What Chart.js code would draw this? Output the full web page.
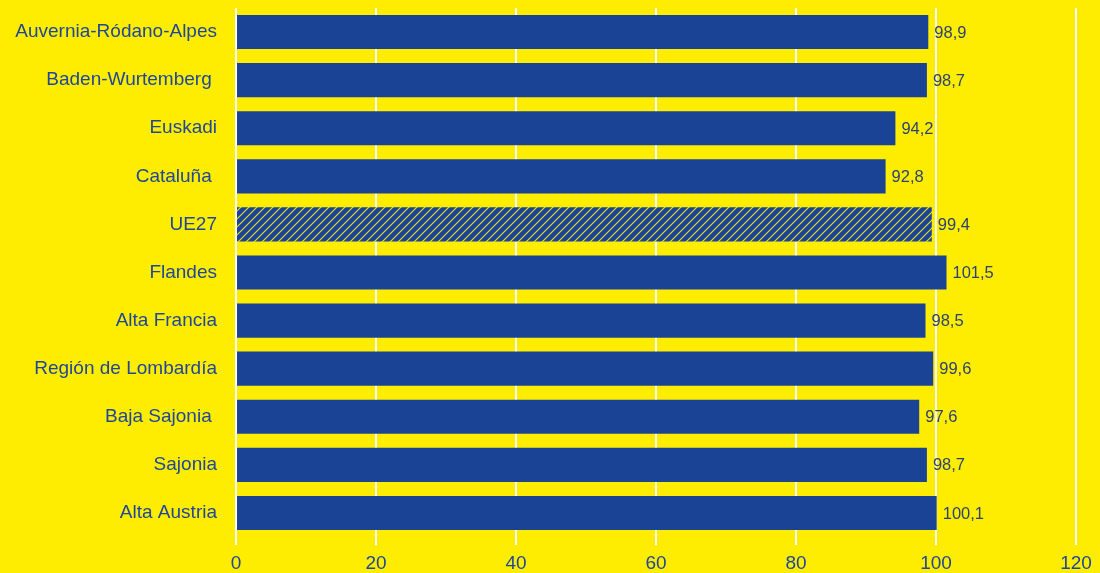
<!DOCTYPE html>
<html>
<head>
<meta charset="utf-8">
<script src="https://cdn.jsdelivr.net/npm/chart.js@4"></script>
<style>
  html, body { margin: 0; padding: 0; background: #ffed00; }
  #wrap { width: 1100px; height: 573px; }
</style>
</head>
<body>
<div id="wrap"><canvas id="chart"></canvas></div>
<script>
"use strict";

const REGIONS = [
  "Auvernia-Ródano-Alpes", "Baden-Wurtemberg ", "Euskadi", "Cataluña ", "UE27",
  "Flandes", "Alta Francia", "Región de Lombardía", "Baja Sajonia ", "Sajonia", "Alta Austria",
];
const VALUES = [98.9, 98.7, 94.2, 92.8, 99.4, 101.5, 98.5, 99.6, 97.6, 98.7, 100.1];
const X_TICKS = [0, 20, 40, 60, 80, 100, 120];
const HATCHED = "UE27";

const BLUE = "#1a4396";
const LABEL = "#21479a";
const VALUE_COLOR = "#2d4272";
const FONT = '"Liberation Sans", Arial, sans-serif';

const fmtComma = (v) => v.toFixed(1).replace(".", ",");

// diagonal stripes used for the EU average bar
function hatchPattern() {
  const c = document.createElement("canvas");
  c.width = 8; c.height = 8;
  const g = c.getContext("2d");
  g.fillStyle = BLUE;
  g.fillRect(0, 0, 8, 8);
  g.strokeStyle = "#e3da2c";
  g.lineWidth = 1.2;
  g.beginPath();
  g.moveTo(0, 8); g.lineTo(8, 0);
  g.moveTo(-1, 1); g.lineTo(1, -1);
  g.moveTo(7, 9); g.lineTo(9, 7);
  g.stroke();
  return g.createPattern(c, "repeat");
}

const valueLabels = {
  id: "valueLabels",
  afterDatasetsDraw(chart) {
    const { ctx } = chart;
    const meta = chart.getDatasetMeta(0);
    ctx.save();
    ctx.font = "16.5px " + FONT;
    ctx.fillStyle = VALUE_COLOR;
    ctx.textAlign = "left";
    ctx.textBaseline = "middle";
    meta.data.forEach((bar, i) => {
      ctx.fillText(fmtComma(VALUES[i]), bar.x + 6, bar.y + 1);
    });
    ctx.restore();
  },
};

const pattern = hatchPattern();

new Chart(document.getElementById("chart"), {
  type: "bar",
  data: {
    labels: REGIONS,
    datasets: [{
      data: VALUES,
      backgroundColor: REGIONS.map((r) => (r === HATCHED ? pattern : BLUE)),
      barPercentage: 0.71,
      categoryPercentage: 1,
    }],
  },
  options: {
    indexAxis: "y",
    responsive: true,
    maintainAspectRatio: false,
    animation: false,
    layout: { padding: { top: 8, right: 24, bottom: 0, left: 0 } },
    plugins: { legend: { display: false }, tooltip: { enabled: false } },
    scales: {
      x: {
        min: 0,
        max: 120,
        afterBuildTicks: (s) => { s.ticks = X_TICKS.map((v) => ({ value: v })); },
        afterFit: (s) => { s.height = 36; s.paddingLeft = 0; s.paddingRight = 0; },
        grid: { color: "#ffffff", lineWidth: 2, tickLength: 8, tickColor: "#ffffff" },
        border: { display: false },
        ticks: {
          color: LABEL,
          padding: 7,
          font: { family: FONT, size: 19 },
        },
      },
      y: {
        afterFit: (s) => { s.width = 236; s.paddingTop = 0; s.paddingBottom = 0; },
        grid: { display: false, drawTicks: false },
        border: { display: false },
        ticks: {
          color: LABEL,
          padding: 19,
          font: { family: FONT, size: 19 },
        },
      },
    },
  },
  plugins: [valueLabels],
});
</script>
</body>
</html>
